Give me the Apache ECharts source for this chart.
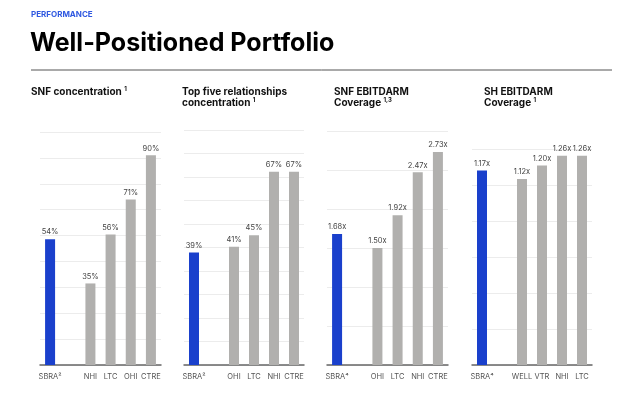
<!DOCTYPE html>
<html>
<head>
<meta charset="utf-8">
<script src="https://cdn.jsdelivr.net/npm/echarts@6/dist/echarts.min.js"></script>
<style>
  html, body { margin: 0; padding: 0; background: #fff; }
  #chart { width: 640px; height: 399px; }
</style>
</head>
<body>
<div id="chart"></div>
<script>
// categories and values (empty slot after SBRA)
const snfCats = ["SBRA²", "", "NHI", "LTC", "OHI", "CTRE"];
const snfVals = [54, null, 35, 56, 71, 90];

const topCats = ["SBRA²", "", "OHI", "LTC", "NHI", "CTRE"];
const topVals = [39, null, 41, 45, 67, 67];

const snfCovCats = ["SBRA⁴", "", "OHI", "LTC", "NHI", "CTRE"];
const snfCovVals = [1.68, null, 1.5, 1.92, 2.47, 2.73];

const shCovCats = ["SBRA⁴", "", "WELL", "VTR", "NHI", "LTC"];
const shCovVals = [1.17, null, 1.12, 1.2, 1.26, 1.26];

const BLUE = "#1a40cc";
const GREY = "#b1b0ae";
const FONT = "Inter";

const panels = [
  { cats: snfCats, vals: snfVals, left: 40, top: 132, width: 121, height: 233, max: 100, split: 9, fmt: v => v + "%" },
  { cats: topCats, vals: topVals, left: 184, top: 130, width: 120, height: 235, max: 81.5, split: 10, fmt: v => v + "%" },
  { cats: snfCovCats, vals: snfCovVals, left: 327, top: 131, width: 121, height: 234, max: 3, split: 6, fmt: v => v.toFixed(2) + "x" },
  { cats: shCovCats, vals: shCovVals, left: 472, top: 149, width: 120, height: 216, max: 1.3, split: 6, fmt: v => v.toFixed(2) + "x" }
];

const chart = echarts.init(document.getElementById("chart"));

const panelTitle = (text, left, top) => ({
  text: text,
  left: left,
  top: top,
  padding: 0,
  textStyle: { fontFamily: FONT, fontSize: 10, fontWeight: "bold", color: "#111", lineHeight: 11.5,
    rich: { sup: { fontSize: 6, fontWeight: "bold", verticalAlign: "top", padding: [0, 0, 6, 0] } } }
});

chart.setOption({
  animation: false,
  title: [
    { text: "PERFORMANCE", left: 31, top: 11, padding: 0,
      textStyle: { fontFamily: FONT, fontSize: 8, fontWeight: "bold", color: "#2f58e0" } },
    { text: "Well-Positioned Portfolio", left: 30, top: 31, padding: 0,
      textStyle: { fontFamily: FONT, fontSize: 25, fontWeight: "bold", color: "#000" } },
    panelTitle("SNF concentration {sup|1}", 31, 86),
    panelTitle("Top five relationships\nconcentration {sup|1}", 182, 86),
    panelTitle("SNF EBITDARM\nCoverage {sup|1,3}", 334, 86),
    panelTitle("SH EBITDARM\nCoverage {sup|1}", 484, 86)
  ],
  graphic: [
    { type: "line", shape: { x1: 31, y1: 70, x2: 612, y2: 70 },
      style: { stroke: "#555", lineWidth: 1 } }
  ],
  grid: panels.map(p => ({ left: p.left, top: p.top, width: p.width, height: p.height })),
  xAxis: panels.map((p, i) => ({
    type: "category",
    gridIndex: i,
    data: p.cats,
    axisTick: { show: false },
    axisLine: { lineStyle: { color: "#666", width: 1.5 } },
    axisLabel: { interval: 0, fontFamily: FONT, fontSize: 7.5, color: "#555", margin: 8 }
  })),
  yAxis: panels.map((p, i) => ({
    type: "value",
    gridIndex: i,
    min: 0,
    max: p.max,
    interval: p.max / p.split,
    axisLabel: { show: false },
    axisLine: { show: false },
    axisTick: { show: false },
    splitLine: { lineStyle: { color: "#ececec", width: 1 } }
  })),
  series: panels.map((p, i) => ({
    type: "bar",
    xAxisIndex: i,
    yAxisIndex: i,
    data: p.vals,
    barWidth: 10,
    itemStyle: { color: params => (params.dataIndex === 0 ? BLUE : GREY) },
    label: {
      show: true,
      position: "top",
      distance: 3,
      fontFamily: FONT,
      fontSize: 7.5,
      color: "#444",
      formatter: params => p.fmt(params.value)
    }
  }))
});
</script>
</body>
</html>
